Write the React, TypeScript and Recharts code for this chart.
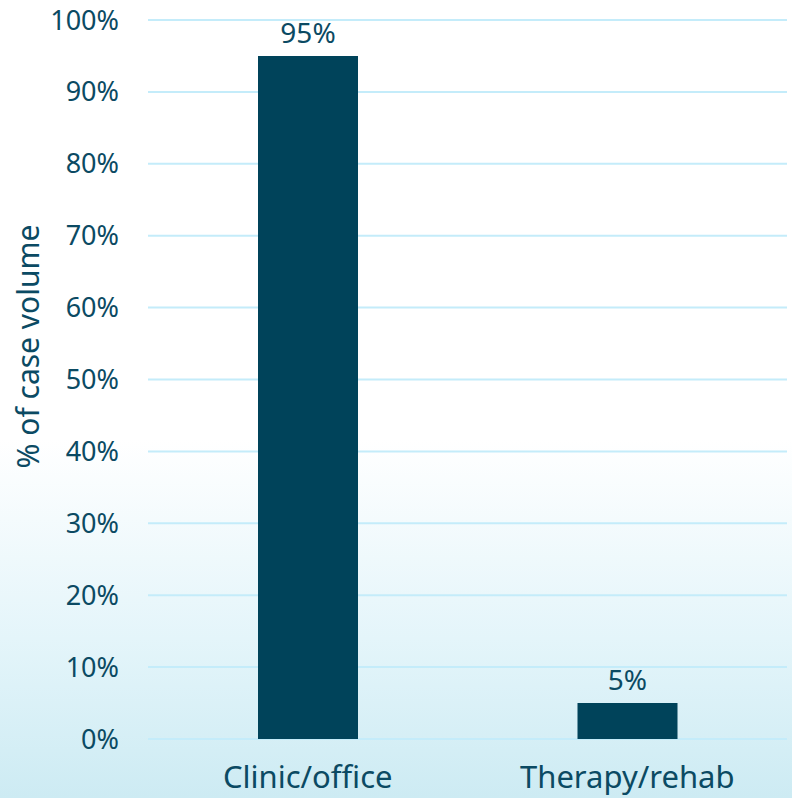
import React from "react";
import { BarChart, Bar, XAxis, YAxis, CartesianGrid, LabelList, Label } from "recharts";

const categories = ["Clinic/office", "Therapy/rehab"];
const shares = [95, 5];
const yTicks = [0, 10, 20, 30, 40, 50, 60, 70, 80, 90, 100];

const data = categories.map((name, i) => ({ name, value: shares[i] }));

const TEXT = "#0B4A63";
const FONT = "'Noto Sans', 'Open Sans', sans-serif";

const YLabel = (props: any) => {
  const vb = props.viewBox || {};
  const x = (vb.x ?? 0) + 27;
  const y = (vb.y ?? 0) + (vb.height ?? 0) / 2 - 33;
  return (
    <text
      x={x}
      y={y}
      transform={`rotate(-90, ${x}, ${y})`}
      textAnchor="middle"
      dominantBaseline="central"
      fill={TEXT}
      fontSize={30}
      fontFamily={FONT}
    >
      % of case volume
    </text>
  );
};

export default function App() {
  return (
    <div
      style={{
        position: "absolute",
        left: 0,
        top: 0,
        width: 792,
        height: 798,
        background: "linear-gradient(to bottom, #ffffff 0%, #ffffff 55%, #e4f5fa 80%, #cdebf3 100%)",
        fontFamily: FONT,
      }}
    >
      <BarChart
        width={792}
        height={798}
        data={data}
        margin={{ top: 20, right: 5, left: 0, bottom: 0 }}
        barSize={100}
      >
        <CartesianGrid vertical={false} stroke="#c4ecfa" strokeWidth={2} />
        <XAxis
          dataKey="name"
          height={59}
          axisLine={false}
          tickLine={false}
          tickSize={0}
          tickMargin={27}
          tick={{ fill: TEXT, fontSize: 31, fontFamily: FONT }}
        />
        <YAxis
          width={148}
          domain={[0, 100]}
          ticks={yTicks}
          axisLine={false}
          tickLine={false}
          tickSize={0}
          tickMargin={29}
          tickFormatter={(v: number) => `${v}%`}
          tick={{ fill: TEXT, fontSize: 27, fontFamily: FONT }}
        >
          <Label content={<YLabel />} />
        </YAxis>
        <Bar dataKey="value" fill="#00435A" isAnimationActive={false}>
          <LabelList
            dataKey="value"
            position="top"
            offset={13}
            formatter={(v: number) => `${v}%`}
            style={{ fill: TEXT, fontSize: 28, fontFamily: FONT }}
          />
        </Bar>
      </BarChart>
    </div>
  );
}
